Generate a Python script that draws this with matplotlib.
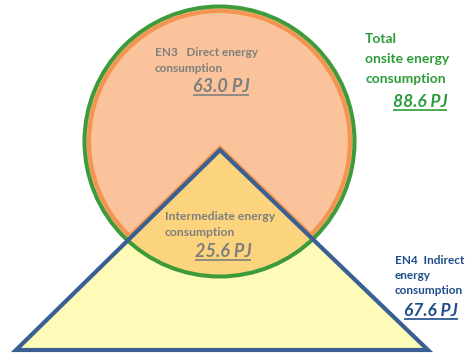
import matplotlib.pyplot as plt
from matplotlib.patches import Circle, Polygon
import matplotlib.transforms as mtransforms

# values (PJ)
direct = 63.0
intermediate = 25.6
indirect = 67.6
total = 88.6

direct_label = ["EN3   Direct energy", "consumption"]
inter_label = ["Intermediate energy", "consumption"]
indirect_label = ["EN4  Indirect", "energy", "consumption"]
total_label = ["Total", "onsite energy", "consumption"]

plt.rcParams['font.family'] = ['Lato', 'DejaVu Sans']

fig = plt.figure(figsize=(4.67, 3.56), dpi=100)
ax = fig.add_axes([0, 0, 1, 1])
ax.set_xlim(0, 467)
ax.set_ylim(356, 0)
ax.axis('off')

cx, cy, r = 219.5, 141.5, 134
tri = [(220, 150), (16, 350), (428, 350)]

# circle
ax.add_patch(Circle((cx, cy), r, facecolor='#FAC39B', edgecolor='none', zorder=1))
# inner orange ring (hidden under the triangle)
ax.add_patch(Circle((cx, cy), r - 3.5, fill=False, edgecolor='#F39450', lw=3.0, zorder=1.5))

# triangle
ax.add_patch(Polygon(tri, closed=True, facecolor='#FEFAB8', edgecolor='none', zorder=2))

# overlap region
ov = Polygon(tri, closed=True, facecolor='#FBD47D', edgecolor='none', zorder=3)
ax.add_patch(ov)
ov.set_clip_path(Circle((cx, cy), r, transform=ax.transData))

# orange glow above triangle edge inside circle
off = mtransforms.offset_copy(ax.transData, fig=fig, x=0, y=3, units='dots')
glow = Polygon(tri, closed=True, fill=False, edgecolor='#F7964A', lw=2.2, zorder=4,
               transform=off)
ax.add_patch(glow)
glow.set_clip_path(Circle((cx, cy), r, transform=ax.transData))

# triangle outline
ax.add_patch(Polygon(tri, closed=True, fill=False, edgecolor='#3A5F93', lw=3,
                     joinstyle='miter', zorder=6))

# green outer ring
ax.add_patch(Circle((cx, cy), r + 1, fill=False, edgecolor='#3E9B3A', lw=2.9, zorder=5))

gray = '#7F7F7F'
green = '#2E9C3A'
blue = '#1F4E8A'

fig.canvas.draw()
renderer = fig.canvas.get_renderer()


def value_text(x, y, s, color, size, ha='center'):
    txt = ax.text(x, y, s, color=color, fontsize=size, fontweight='bold',
                  fontstyle='italic', ha=ha, va='baseline', zorder=10)
    bb = txt.get_window_extent(renderer=renderer)
    inv = ax.transData.inverted()
    (x0, _), (x1, _) = inv.transform([(bb.x0, bb.y0), (bb.x1, bb.y0)])
    ax.plot([x0, x1], [y + 3, y + 3], color=color, lw=1.2, zorder=10,
            solid_capstyle='butt')
    return txt


def label_lines(x, y, lines, color, size, step):
    for i, s in enumerate(lines):
        ax.text(x, y + i * step, s, color=color, fontsize=size, fontweight='bold',
                ha='left', va='baseline', zorder=10)


label_lines(155, 56, direct_label, gray, 8.5, 16)
value_text(221, 92, f"{direct:.1f} PJ", gray, 13)

label_lines(165, 220, inter_label, gray, 8.7, 15.5)
value_text(223, 257, f"{intermediate:.1f} PJ", gray, 13)

label_lines(395, 264, indirect_label, blue, 8.5, 15)
value_text(431, 316, f"{indirect:.1f} PJ", blue, 12.5)

label_lines(365, 43, total_label, green, 10, 20)
value_text(420, 107, f"{total:.1f} PJ", green, 12.5)

fig.savefig('out.png', dpi=100)
